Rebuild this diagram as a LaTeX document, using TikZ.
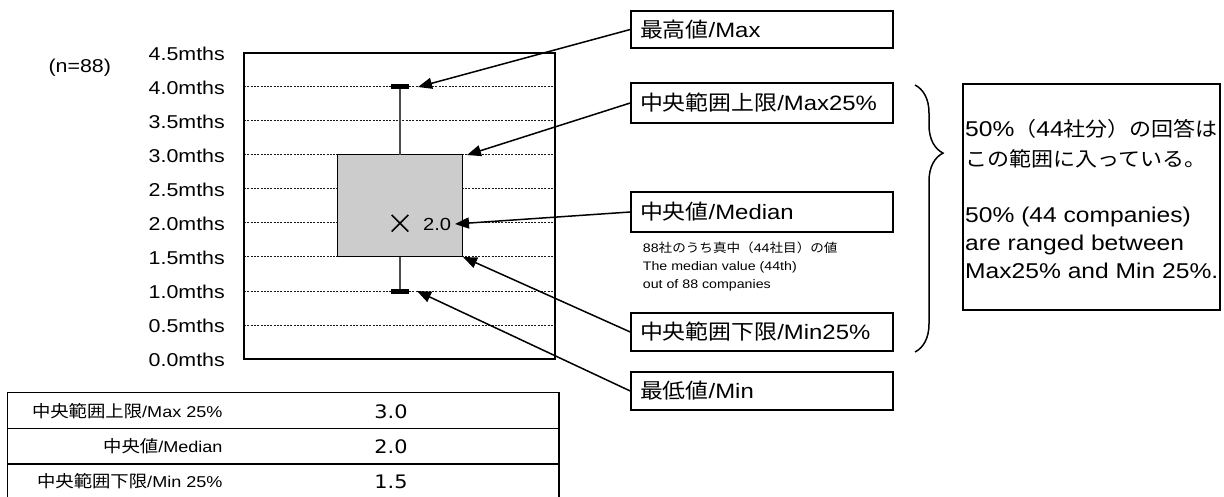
\documentclass[tikz,border=0pt]{standalone}
\usepackage{fontspec}
\setmainfont{Liberation Sans}[FakeStretch=1.15]
\newfontfamily\cjk{Noto Sans CJK JP}[FakeStretch=1.1]
\newfontfamily\numfont{DejaVu Sans}[FakeStretch=1.12]
\usetikzlibrary{arrows.meta,decorations.pathreplacing}
\newcommand\cj[1]{{\cjk #1}}
\newcommand\cjz[2]{{\fontsize{#1}{#1}\cjk #2}}
\newcommand\axfont{\fontsize{18.6}{22}\selectfont}
\newcommand\lblfont{\fontsize{20.8}{25}\selectfont}
\newcommand\notefont{\fontsize{12.35}{16}\selectfont}
\newcommand\rbfont{\fontsize{21.4}{28}\selectfont}
\newcommand\tblfont{\fontsize{15.7}{19}\selectfont}
\tikzset{
  gridline/.style={line width=1pt, dash pattern=on 2pt off 1.3pt, black!90},
  frameline/.style={line width=1.6pt},
  lbl/.style={draw, line width=1.5pt, minimum width=262pt, text width=244pt,
              inner xsep=9pt, inner ysep=0pt, align=left, font=\lblfont},
  ptr/.style={-{Triangle[length=14pt,width=11pt]}, line width=1.5pt},
  axis/.style={anchor=east, inner sep=0pt, font=\axfont},
  txt/.style={inner sep=0pt},
  tblline/.style={line width=1.3pt},
}
\begin{document}
\begin{tikzpicture}[x=1pt,y=-1pt]
\useasboundingbox (0,0) rectangle (1224,497);

% grid lines
\foreach \y in {87,121,...,325} \draw[gridline] (244,\y) -- (555,\y);
% frame
\draw[frameline] (244,53) rectangle (555,359);
% box
\draw[fill=black!20, line width=1pt] (337.5,155) rectangle (462,257);
% whiskers
\draw[line width=2pt, black!70] (400,87) -- (400,155) (400,257) -- (400,291);
\draw[line width=5pt] (391,87) -- (409,87) (391,291) -- (409,291);
% median cross
\draw[line width=1.6pt] (391.7,215) -- (408.3,231.6) (391.7,231.6) -- (408.3,215);
\node[txt, anchor=west, font=\fontsize{17.5}{20}\selectfont] (medv) at (423,224) {2.0};

% axis labels
\foreach \v/\y [count=\i] in {4.5/53,4.0/87,3.5/121,3.0/155,2.5/189,2.0/223,1.5/257,1.0/291,0.5/325,0.0/359}
  \node[axis] (ax\i) at (225,\y+1) {\v mths};
\node[txt, anchor=west, font=\axfont] (nlab) at (48.3,68) {(n=88)};

% label boxes
\node[lbl, minimum height=37pt] (bmax) at (762,29.5) {\cj{最高値}/Max};
\node[lbl, minimum height=40pt] (bq3) at (762,103) {\cj{中央範囲上限}/Max25\%};
\node[lbl, minimum height=40pt] (bmed) at (762,212) {\cj{中央値}/Median};
\node[lbl, minimum height=38pt] (bq1) at (762,332) {\cj{中央範囲下限}/Min25\%};
\node[lbl, minimum height=38pt] (bmin) at (762,391) {\cj{最低値}/Min};

% arrow tips
\coordinate (tmax) at (418,87);
\coordinate (tq3) at (467,155);
\coordinate (tmed) at (455,224);
\coordinate (tq1) at (463,257);
\coordinate (tmin) at (417,291);
\draw[ptr] (bmax.west) -- (tmax);
\draw[ptr] (bq3.west) -- (tq3);
\draw[ptr] (bmed.west) -- (tmed);
\draw[ptr] (bq1.west) -- (tq1);
\draw[ptr] (bmin.west) -- (tmin);

% median note
\node[txt, anchor=base west, font=\notefont] (note1) at (642.7,252.6) {88\cj{社のうち真中（}44\cj{社目）の値}};
\node[txt, anchor=base west, font=\notefont] (note2) at (642.7,270.6) {The median value (44th)};
\node[txt, anchor=base west, font=\notefont] (note3) at (642.7,288.6) {out of 88 companies};

% brace
\draw[line width=1.5pt, decorate, decoration={brace, amplitude=28pt, aspect=0.255}] (915,85) -- (915,352);

% right box
\node[draw, line width=1.5pt, minimum width=257pt, minimum height=226pt, inner sep=0pt] (rbox) at (1091.5,197) {};
\node[txt, anchor=base west, font=\rbfont] (r1) at (965,137) {50\%\cjz{20}{（}44\cjz{20}{社分）の回答は}};
\node[txt, anchor=base west, font=\rbfont] (r2) at (965,166.4) {\cjz{20}{この範囲に入っている。}};
\node[txt, anchor=base west, font=\rbfont] (r3) at (965,223) {50\% (44 companies)};
\node[txt, anchor=base west, font=\rbfont] (r4) at (965,251) {are ranged between};
\node[txt, anchor=base west, font=\rbfont] (r5) at (965,278.5) {Max25\% and Min 25\%.};

% table
\draw[tblline] (7.3,497) -- (7.3,392.7) -- (559,392.7) -- (559,497);
\draw[tblline] (7.3,428.3) -- (559,428.3) (7.3,464) -- (559,464);
\node[txt, anchor=east, font=\tblfont] (t1l) at (222.7,411.5) {\cjz{16.7}{中央範囲上限}/Max 25\%};
\node[txt, anchor=east, font=\tblfont] (t2l) at (222.7,446.5) {\cjz{16.7}{中央値}/Median};
\node[txt, anchor=east, font=\tblfont] (t3l) at (222.7,481.5) {\cjz{16.7}{中央範囲下限}/Min 25\%};
\node[txt, font={\fontsize{18.6}{20}\numfont}] (t1v) at (391,411.7) {3.0};
\node[txt, font={\fontsize{18.6}{20}\numfont}] (t2v) at (391,446.7) {2.0};
\node[txt, font={\fontsize{18.6}{20}\numfont}] (t3v) at (391,481.7) {1.5};
\end{tikzpicture}
\end{document}
